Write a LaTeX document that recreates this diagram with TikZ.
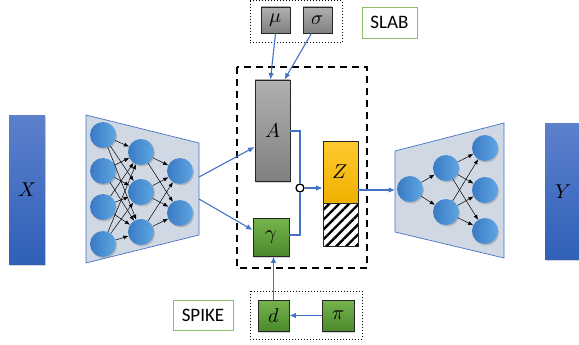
\documentclass[tikz,border=0pt]{standalone}
\usepackage{fontspec}
\usepackage{unicode-math}
\setmathfont{Latin Modern Math}
\newfontfamily\carlito{Carlito}
\usetikzlibrary{arrows.meta,patterns.meta,shadows}
\definecolor{barT}{RGB}{92,128,204}
\definecolor{barB}{RGB}{48,96,184}
\definecolor{nL}{RGB}{58,122,196}
\definecolor{nR}{RGB}{94,166,226}
\definecolor{trapF}{RGB}{208,216,228}
\definecolor{lblue}{RGB}{68,114,196}
\definecolor{grT}{RGB}{176,176,176}
\definecolor{grB}{RGB}{128,128,128}
\definecolor{gnT}{RGB}{118,180,76}
\definecolor{gnB}{RGB}{74,138,44}
\definecolor{yeT}{RGB}{255,202,48}
\definecolor{yeB}{RGB}{240,176,0}
\definecolor{lgreen}{RGB}{140,192,104}
\tikzset{
  bar/.style={rectangle, inner sep=0, minimum width=36pt, top color=barT, bottom color=barB, drop shadow={shadow xshift=1pt, shadow yshift=-1.5pt, opacity=0.35}},
  neuron/.style={circle, inner sep=0, minimum size=26pt, left color=nL, right color=nR, drop shadow={shadow xshift=1pt, shadow yshift=-1.5pt, opacity=0.4}},
  netarrow/.style={draw=black, line width=0.5pt, -{Latex[length=5pt,width=4pt]}},
  trap/.style={draw=lblue, line width=0.7pt, fill=trapF},
  blu/.style={draw=lblue, line width=1.1pt},
  bluarrow/.style={blu, -{Latex[length=6.5pt,width=5.5pt]}},
  graybox/.style={rectangle, draw=black!85, line width=0.8pt, inner sep=0, top color=grT, bottom color=grB, drop shadow={shadow xshift=1pt, shadow yshift=-1.5pt, opacity=0.35}},
  greenbox/.style={rectangle, draw=black!85, line width=0.8pt, inner sep=0, top color=gnT, bottom color=gnB, drop shadow={shadow xshift=1pt, shadow yshift=-1.5pt, opacity=0.35}},
  zbox/.style={rectangle, draw=black!85, line width=0.8pt, inner sep=0, top color=yeT, bottom color=yeB},
  hatchbox/.style={rectangle, draw=black!85, line width=0.8pt, inner sep=0, pattern={Lines[angle=45,distance=7pt,line width=2.4pt]}},
  labelbox/.style={rectangle, draw=lgreen, line width=0.9pt, fill=white, inner sep=0, font=\carlito\fontsize{19}{21}\selectfont},
  dotbox/.style={draw=black, line width=1pt, dotted},
  dashbox/.style={draw=black, line width=1.8pt, dash pattern=on 7pt off 5pt},
  mlabel/.style={font=\fontsize{20}{22}\selectfont}
}
\begin{document}
\begin{tikzpicture}[x=1pt,y=-1pt]
\useasboundingbox (0,0) rectangle (579,345);
% input / output bars
\node[bar, minimum height=148pt, mlabel] (X) at (27,190) {$X$};
\node[bar, minimum height=135pt, mlabel] (Y) at (563,191.5) {$Y$};
% encoder
\draw[trap] (86,115) -- (199,143) -- (199,235) -- (86,263) -- cycle;
\coordinate (encA) at (199,177);
\coordinate (encG) at (199,199);
\foreach \i/\y in {1/135,2/171,3/207,4/244} \node[neuron] (ea\i) at (103,\y) {};
\foreach \i/\y in {1/152,2/192,3/232} \node[neuron] (eb\i) at (141,\y) {};
\foreach \i/\y in {1/171,2/213} \node[neuron] (ec\i) at (180,\y) {};
\foreach \i in {1,2,3,4} \foreach \j in {1,2,3} \draw[netarrow] (ea\i) -- (eb\j);
\foreach \i in {1,2,3} \foreach \j in {1,2} \draw[netarrow] (eb\i) -- (ec\j);
% decoder
\draw[trap] (395,151) -- (504,123) -- (504,258) -- (395,232) -- cycle;
\coordinate (decIn) at (395,190);
\node[neuron] (da1) at (410,189) {};
\foreach \i/\y in {1/168,2/212} \node[neuron] (db\i) at (446,\y) {};
\foreach \i/\y in {1/148,2/190,3/231} \node[neuron] (dc\i) at (485,\y) {};
\foreach \j in {1,2} \draw[netarrow] (da1) -- (db\j);
\foreach \i in {1,2} \foreach \j in {1,2,3} \draw[netarrow] (db\i) -- (dc\j);
% dashed latent box
\draw[dashbox] (237,67) rectangle (367,268);
% slab parameters
\draw[dotbox] (250,1) rectangle (342,43);
\node[graybox, minimum width=29pt, minimum height=26pt, mlabel] (mu) at (275.5,20) {$\mu$};
\node[graybox, minimum width=29pt, minimum height=26pt, mlabel] (sigma) at (317.5,20) {$\sigma$};
\node[labelbox, minimum width=55pt, minimum height=31pt] (slab) at (389.5,22.5) {SLAB};
% A, gamma, Z
\node[graybox, minimum width=35pt, minimum height=101pt, mlabel] (A) at (272.5,130.5) {$A$};
\node[greenbox, minimum width=36pt, minimum height=38pt, mlabel] (gamma) at (271,237) {$\gamma$};
\node[zbox, minimum width=35pt, minimum height=62pt, mlabel] (Z) at (340.5,172) {$Z$};
\node[hatchbox, minimum width=35pt, minimum height=43pt] (H) at (340.5,224.5) {};
% spike parameters
\draw[dotbox] (250,291) rectangle (362,339);
\node[greenbox, minimum width=31pt, minimum height=31pt, mlabel] (d) at (273.5,315.5) {$d$};
\node[greenbox, minimum width=32pt, minimum height=31pt, mlabel] (pi) at (338,315.5) {$\pi$};
\node[labelbox, minimum width=60pt, minimum height=30pt] (spike) at (203,315) {SPIKE};
% junction
\node[circle, draw=black, line width=1.3pt, fill=white, inner sep=0, minimum size=8pt] (J) at (300,188) {};
% connectors
\draw[bluarrow] (encA) -- (A.west |- 0,147);
\draw[bluarrow] (encG) -- (gamma.west |- 0,230);
\draw[bluarrow] (mu.south) -- ([xshift=-2pt]A.north);
\draw[bluarrow] ([xshift=-6pt]sigma.south) -- ([xshift=12pt]A.north);
\draw[blu] (A.east |- 0,131) -| (J.north);
\draw[blu] (gamma.east |- 0,235) -| (J.south);
\draw[bluarrow] (J.east) -- (Z.west |- J);
\draw[bluarrow] (Z.east |- 0,190) -- (decIn);
\draw[bluarrow] (pi.west) -- (d.east);
\draw[bluarrow] (d.north) -- (gamma.south -| d.north);
\end{tikzpicture}
\end{document}
